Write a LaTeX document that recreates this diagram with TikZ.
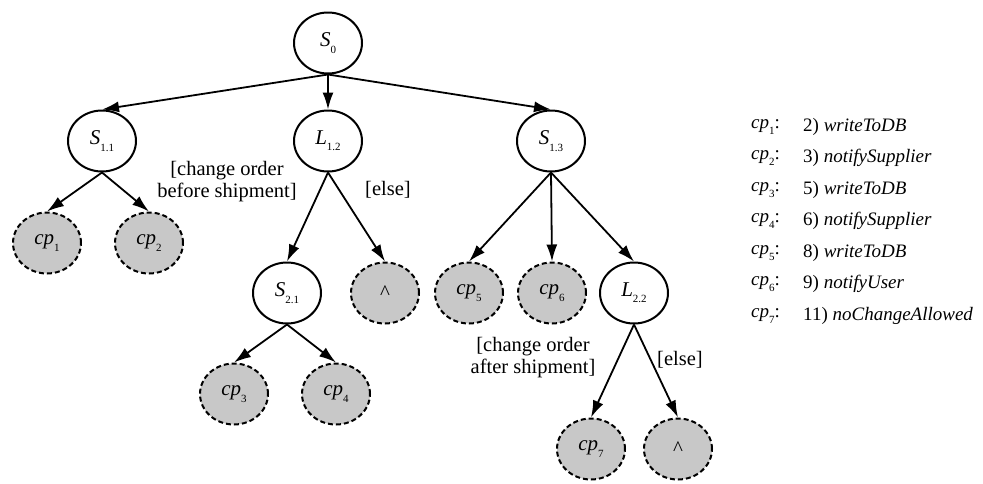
\documentclass[tikz,border=0pt]{standalone}
\usepackage{fontspec}
\setmainfont{Liberation Serif}
\usetikzlibrary{arrows.meta,shapes.geometric}
\newcommand{\lbl}[2]{\textit{#1}\raisebox{-0.3em}{\fontsize{11}{11}\selectfont #2}}
\definecolor{cpgray}{RGB}{200,200,200}
\tikzset{
  ring/.style={ellipse, draw, line width=2pt, minimum width=68pt, minimum height=61pt, inner sep=0pt, font=\fontsize{21}{24}\selectfont},
  dashring/.style={ring, dash pattern=on 5pt off 3pt, fill=cpgray},
  arr/.style={line width=1.8pt, -{Latex[length=17pt,width=11pt]}},
  cond/.style={align=center, font=\fontsize{20.5}{22}\selectfont, inner sep=0pt},
  lgk/.style={anchor=west, font=\fontsize{19}{22}\selectfont, inner sep=0pt},
}
\begin{document}
\begin{tikzpicture}[x=1pt,y=-1pt]
\useasboundingbox (0,0) rectangle (983,483);
% tree nodes
\node[ring] (s0) at (328,43) {\lbl{S}{0}};
\node[ring] (s11) at (102,141) {\lbl{S}{1.1}};
\node[ring] (l12) at (328,141) {\lbl{L}{1.2}};
\node[ring] (s13) at (551,141) {\lbl{S}{1.3}};
\node[dashring] (c1) at (47,243) {\lbl{cp}{1}};
\node[dashring] (c2) at (149,243) {\lbl{cp}{2}};
\node[ring] (s21) at (287,293) {\lbl{S}{2.1}};
\node[dashring] (h1) at (385,293) {\textasciicircum};
\node[dashring] (c5) at (469,293) {\lbl{cp}{5}};
\node[dashring] (c6) at (552,293) {\lbl{cp}{6}};
\node[ring] (l22) at (634,293) {\lbl{L}{2.2}};
\node[dashring] (c3) at (234,394) {\lbl{cp}{3}};
\node[dashring] (c4) at (336,394) {\lbl{cp}{4}};
\node[dashring] (c7) at (591,449) {\lbl{cp}{7}};
\node[dashring] (h2) at (678,449) {\textasciicircum};
% connectors
\draw[arr] (s0.south) -- (s11.north);
\draw[arr] (s0.south) -- (l12.north);
\draw[arr] (s0.south) -- (s13.north);
\draw[arr] (s11.south) -- (c1.north);
\draw[arr] (s11.south) -- (c2.north);
\draw[arr] (l12.south) -- (s21.north);
\draw[arr] (l12.south) -- (h1.north);
\draw[arr] (s13.south) -- (c5.north);
\draw[arr] (s13.south) -- (c6.north);
\draw[arr] (s13.south) -- (l22.north);
\draw[arr] (s21.south) -- (c3.north);
\draw[arr] (s21.south) -- (c4.north);
\draw[arr] (l22.south) -- (c7.north);
\draw[arr] (l22.south) -- (h2.north);
% conditions
\node[cond] (t1) at (227,182) {[change order\\before shipment]};
\node[cond] (t2) at (388,190) {[else]};
\node[cond] (t3) at (533,358) {[change order\\after shipment]};
\node[cond] (t4) at (680,360) {[else]};
% legend
\node[lgk] (k1) at (751,127) {\lbl{cp}{1}:};
\node[lgk] (k2) at (751,158) {\lbl{cp}{2}:};
\node[lgk] (k3) at (751,190) {\lbl{cp}{3}:};
\node[lgk] (k4) at (751,221) {\lbl{cp}{4}:};
\node[lgk] (k5) at (751,253) {\lbl{cp}{5}:};
\node[lgk] (k6) at (751,284) {\lbl{cp}{6}:};
\node[lgk] (k7) at (751,316) {\lbl{cp}{7}:};
\node[lgk] (v1) at (803,127) {2) \textit{writeToDB}};
\node[lgk] (v2) at (803,158) {3) \textit{notifySupplier}};
\node[lgk] (v3) at (803,190) {5) \textit{writeToDB}};
\node[lgk] (v4) at (803,221) {6) \textit{notifySupplier}};
\node[lgk] (v5) at (803,253) {8) \textit{writeToDB}};
\node[lgk] (v6) at (803,284) {9) \textit{notifyUser}};
\node[lgk] (v7) at (803,316) {11) \textit{noChangeAllowed}};
\end{tikzpicture}
\end{document}
